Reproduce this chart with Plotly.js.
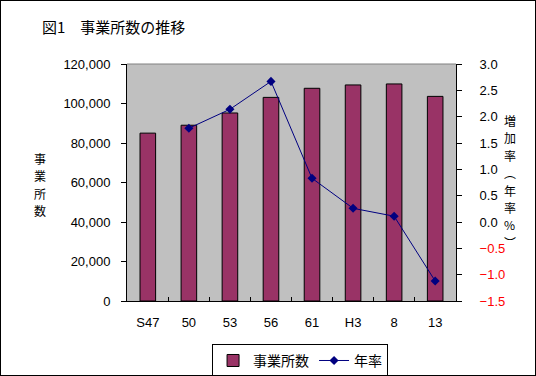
<!DOCTYPE html>
<html>
<head>
<meta charset="utf-8">
<script src="https://cdn.plot.ly/plotly-3.0.1.min.js"></script>
<style>
html,body{margin:0;padding:0;background:#fff;}
#wrap{position:relative;width:536px;height:376px;}
#chart{width:536px;height:376px;}
#frame{position:absolute;left:0;top:0;width:534px;height:374px;border:1px solid #000;pointer-events:none;}
</style>
</head>
<body>
<div id="wrap"><div id="chart"></div><div id="frame"></div></div>
<script>
const categories = ["S47", "50", "53", "56", "61", "H3", "8", "13"];
const establishments = [85000, 89000, 95200, 103100, 107700, 109400, 109900, 103600];
const annualRate = [null, 1.78, 2.14, 2.67, 0.83, 0.26, 0.11, -1.12];
const rateTickVals = [3.0, 2.5, 2.0, 1.5, 1.0, 0.5, 0.0, -0.5, -1.0, -1.5];
const rateTickText = rateTickVals.map(v => v < 0
  ? '<span style="color:#ff0000">' + '\u2212' + Math.abs(v).toFixed(1) + '</span>'
  : v.toFixed(1));
const titleText = "図1\u3000事業所数の推移";
const seriesNames = ["事業所数", "年率"];
const leftTitleChars = ["事", "業", "所", "数"];
const rightTitleChars = ["増", "加", "率", "\uFE35", "年", "率", "%", "\uFE36"];

const jp = '"Noto Sans CJK JP", sans-serif';
const num = '"Liberation Sans", Arial, sans-serif';

const PLOT_TOP = 64, PLOT_H = 237;
function paperY(px) { return (PLOT_TOP + PLOT_H - px) / PLOT_H; }

function stacked(chars, xPaper, firstCenterPx, stepPx, size) {
  return chars.map((c, i) => ({
    xref: 'paper', yref: 'paper', x: xPaper, y: paperY(firstCenterPx + i * stepPx),
    xanchor: 'center', yanchor: 'middle', text: c, showarrow: false,
    font: {family: jp, size: size}
  }));
}

const traces = [
  {
    type: 'bar', x: categories, y: establishments, name: seriesNames[0],
    marker: {color: '#993366', line: {color: '#000000', width: 1}},
    width: 0.38, yaxis: 'y'
  },
  {
    type: 'scatter', mode: 'lines+markers', x: categories, y: annualRate, name: seriesNames[1],
    line: {color: '#000080', width: 1},
    marker: {symbol: 'diamond', color: '#000080', size: 7},
    yaxis: 'y2'
  }
];

const layout = {
  width: 536, height: 376,
  margin: {l: 127, r: 80, t: 64, b: 75, autoexpand: false},
  paper_bgcolor: '#ffffff',
  plot_bgcolor: '#c0c0c0',
  showlegend: true,
  font: {family: num, size: 13, color: '#000'},
  xaxis: {
    type: 'category', showline: true, linecolor: '#000', linewidth: 1,
    ticks: 'inside', tickson: 'boundaries', ticklen: 4, tickcolor: '#000',
    showgrid: false, zeroline: false, ticklabelstandoff: 9, automargin: false,
    tickfont: {family: num, size: 13}
  },
  yaxis: {
    range: [0, 120000], tickvals: [0, 20000, 40000, 60000, 80000, 100000, 120000],
    tickformat: ',d', showline: true, linecolor: '#000', linewidth: 1,
    ticks: 'outside', ticklen: 5, tickcolor: '#000', showgrid: false, zeroline: false,
    ticklabelstandoff: 8, automargin: false, tickfont: {family: num, size: 13}
  },
  yaxis2: {
    overlaying: 'y', side: 'right', range: [-1.5, 3],
    tickvals: rateTickVals, ticktext: rateTickText,
    showline: true, linecolor: '#000', linewidth: 1,
    ticks: 'outside', ticklen: 5, tickcolor: '#000', showgrid: false, zeroline: false,
    ticklabelstandoff: 15, automargin: false, tickfont: {family: num, size: 13}
  },
  legend: {
    orientation: 'h', x: 0.526, xanchor: 'center', y: -0.181, yanchor: 'top',
    bordercolor: '#000', borderwidth: 1, bgcolor: '#fff',
    font: {family: jp, size: 14}, traceorder: 'normal'
  },
  shapes: [
    {type: 'line', xref: 'paper', yref: 'paper', x0: 0, x1: 1, y0: 1, y1: 1,
     line: {color: '#808080', width: 1}}
  ],
  annotations: [
    {xref: 'paper', yref: 'paper', x: -0.263, y: 1.158, xanchor: 'left', yanchor: 'middle',
     text: titleText, showarrow: false, font: {family: jp, size: 15}}
  ].concat(stacked(leftTitleChars, -0.263, 158, 17.5, 12))
   .concat(stacked(rightTitleChars, 1.164, 120, 17.5, 12))
};

Plotly.newPlot('chart', traces, layout, {displayModeBar: false, staticPlot: true});
</script>
</body>
</html>
